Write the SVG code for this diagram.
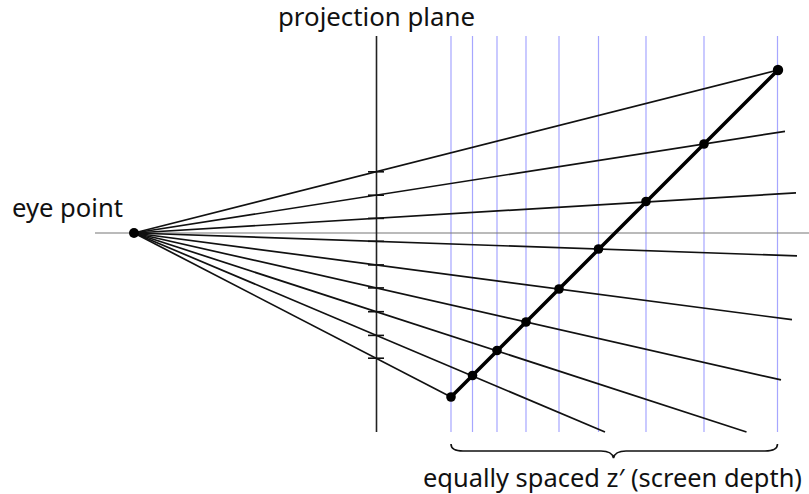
<svg xmlns="http://www.w3.org/2000/svg" width="809" height="494" viewBox="0 0 809 494">
<style>
text{font-family:"Noto Sans","Open Sans","Liberation Sans",sans-serif;font-size:25px;fill:#111}
.blue{stroke:#a6a6ff;stroke-width:1.2}
.ray{stroke:#111;stroke-width:1.7;fill:none}
.tick{stroke:#111;stroke-width:1.6}
.dot{fill:#000}
</style>
<rect width="809" height="494" fill="#fff"/>
<g id="grid">
<line class="blue" x1="451" y1="36" x2="451" y2="432"/>
<line class="blue" x1="472.5" y1="36" x2="472.5" y2="432"/>
<line class="blue" x1="497" y1="36" x2="497" y2="432"/>
<line class="blue" x1="526" y1="36" x2="526" y2="432"/>
<line class="blue" x1="559" y1="36" x2="559" y2="432"/>
<line class="blue" x1="598.5" y1="36" x2="598.5" y2="432"/>
<line class="blue" x1="646" y1="36" x2="646" y2="432"/>
<line class="blue" x1="704" y1="36" x2="704" y2="432"/>
<line class="blue" x1="777.5" y1="36" x2="777.5" y2="432"/>
</g>
<g id="axis">
<line x1="95" y1="233" x2="809" y2="233" stroke="#777" stroke-width="1.2"/>
</g>
<g id="projection-plane">
<line x1="376.5" y1="36" x2="376.5" y2="432" stroke="#222" stroke-width="1.6"/>
<line class="tick" x1="368" y1="171.8" x2="384" y2="171.8"/>
<line class="tick" x1="368" y1="195.2" x2="384" y2="195.2"/>
<line class="tick" x1="368" y1="218.4" x2="384" y2="218.4"/>
<line class="tick" x1="368" y1="241.3" x2="384" y2="241.3"/>
<line class="tick" x1="368" y1="264.9" x2="384" y2="264.9"/>
<line class="tick" x1="368" y1="287.9" x2="384" y2="287.9"/>
<line class="tick" x1="368" y1="311.7" x2="384" y2="311.7"/>
<line class="tick" x1="368" y1="335.4" x2="384" y2="335.4"/>
<line class="tick" x1="368" y1="358.2" x2="384" y2="358.2"/>
<text x="278" y="26" font-size="24" textLength="197" lengthAdjust="spacingAndGlyphs">projection plane</text>
</g>
<g id="connectors">
<line class="ray" x1="134" y1="233" x2="778" y2="70"/>
<line class="ray" x1="134" y1="233" x2="785" y2="131.3"/>
<line class="ray" x1="134" y1="233" x2="796" y2="192.9"/>
<line class="ray" x1="134" y1="233" x2="797" y2="255.9"/>
<line class="ray" x1="134" y1="233" x2="792" y2="319.7"/>
<line class="ray" x1="134" y1="233" x2="781" y2="379.9"/>
<line class="ray" x1="134" y1="233" x2="746.5" y2="432"/>
<line class="ray" x1="134" y1="233" x2="605" y2="432"/>
<line class="ray" x1="134" y1="233" x2="451" y2="397"/>
</g>
<g id="eye-point">
<circle class="dot" cx="134" cy="233" r="5"/>
<text x="12" y="217" textLength="111" lengthAdjust="spacingAndGlyphs">eye point</text>
</g>
<g id="object-line">
<line x1="451" y1="397" x2="778" y2="70" stroke="#000" stroke-width="3.5" stroke-linecap="round"/>
<circle class="dot" cx="451" cy="397" r="4.8"/>
<circle class="dot" cx="472.5" cy="375.5" r="4.8"/>
<circle class="dot" cx="497" cy="350.5" r="4.8"/>
<circle class="dot" cx="526" cy="322" r="4.8"/>
<circle class="dot" cx="559" cy="289" r="4.8"/>
<circle class="dot" cx="598.5" cy="249" r="4.8"/>
<circle class="dot" cx="646" cy="201.5" r="4.8"/>
<circle class="dot" cx="704" cy="144" r="4.8"/>
<circle class="dot" cx="778" cy="70" r="5.2"/>
</g>
<g id="depth-label">
<path d="M451,444 Q451,451 463,451 L601,451 Q612,451 613.5,458 Q615,451 626,451 L765,451 Q777.5,451 777.5,444" fill="none" stroke="#111" stroke-width="1.6"/>
<text x="423" y="487" textLength="379" lengthAdjust="spacingAndGlyphs">equally spaced z′ (screen depth)</text>
</g>
</svg>
